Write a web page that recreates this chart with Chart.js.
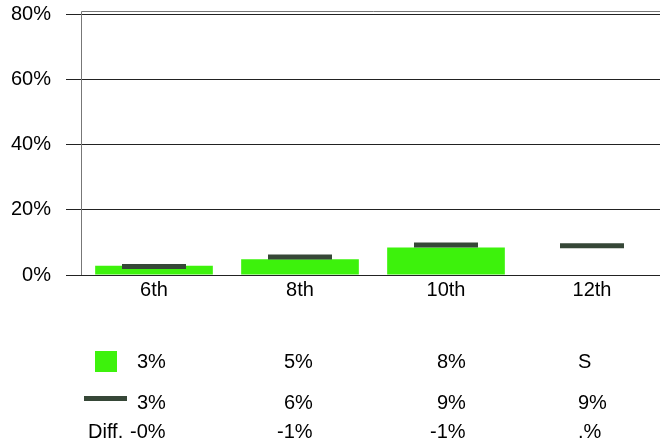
<!DOCTYPE html>
<html>
<head>
<meta charset="utf-8">
<script src="https://cdn.jsdelivr.net/npm/chart.js@4/dist/chart.umd.min.js"></script>
<style>
html,body{margin:0;padding:0;overflow:hidden;background:#fff;}
canvas{display:block;}
</style>
</head>
<body>
<canvas id="c" width="665" height="442"></canvas>
<script>
const categories = ['6th', '8th', '10th', '12th'];
const barValues = [2.8, 4.8, 8.4, null];
const markerValues = [2.6, 5.5, 9.2, 9.0];
const yTicks = [0, 20, 40, 60, 80];
const rowBarText = ['3%', '5%', '8%', 'S'];
const rowMarkerText = ['3%', '6%', '9%', '9%'];
const rowDiffText = ['-0%', '-1%', '-1%', '.%'];
const diffLabel = 'Diff.';

const GREEN = '#3df20c';
const DARK = '#364737';
const FONT = '"Liberation Sans", Arial, sans-serif';

const framePlugin = {
  id: 'frame',
  afterDatasetsDraw(chart) {
    const ctx = chart.ctx, a = chart.chartArea;
    ctx.save();
    ctx.strokeStyle = '#777';
    ctx.lineWidth = 1;
    ctx.beginPath();
    ctx.moveTo(a.left + 0.5, a.bottom);
    ctx.lineTo(a.left + 0.5, a.top - 2.5);
    ctx.lineTo(a.right, a.top - 2.5);
    ctx.stroke();
    ctx.restore();
  },
  afterDraw(chart) {
    const ctx = chart.ctx;
    const colX = [137, 284, 437, 578];
    ctx.save();
    ctx.font = '20px ' + FONT;
    ctx.textBaseline = 'middle';
    ctx.textAlign = 'left';
    ctx.fillStyle = GREEN;
    ctx.fillRect(95, 351, 22, 21);
    ctx.fillStyle = DARK;
    ctx.fillRect(84, 396, 43, 5);
    ctx.fillStyle = '#000';
    for (let i = 0; i < categories.length; i++) {
      ctx.fillText(rowBarText[i], colX[i], 362);
      ctx.fillText(rowMarkerText[i], colX[i], 403);
      ctx.fillText(rowDiffText[i], colX[i] - (rowDiffText[i][0] === '-' ? 7 : 0), 432);
    }
    ctx.fillText(diffLabel, 88, 432);
    ctx.restore();
  }
};

new Chart(document.getElementById('c'), {
  data: {
    labels: categories,
    datasets: [
      {
        type: 'line',
        data: markerValues,
        showLine: false,
        pointStyle: 'line',
        pointRadius: 32,
        pointHoverRadius: 32,
        pointBorderWidth: 5,
        pointHoverBorderWidth: 5,
        borderColor: DARK,
        backgroundColor: DARK,
        clip: false,
        order: 0
      },
      {
        type: 'bar',
        data: barValues,
        backgroundColor: GREEN,
        borderWidth: 0,
        barPercentage: 0.806,
        categoryPercentage: 1,
        order: 1
      }
    ]
  },
  options: {
    responsive: false,
    animation: false,
    events: [],
    layout: { autoPadding: false, padding: { top: 14, right: 0, left: 0, bottom: 0 } },
    plugins: { legend: { display: false }, tooltip: { enabled: false } },
    scales: {
      x: {
        offset: true,
        grid: { display: false, drawTicks: false },
        border: { display: true, color: '#222', width: 1 },
        ticks: { color: '#000', font: { size: 20, family: FONT }, padding: 3, maxRotation: 0 },
        afterFit(s) { s.height = 167; s.paddingLeft = 0; s.paddingRight = 0; }
      },
      y: {
        min: 0, max: 80,
        afterBuildTicks(s) { s.ticks = yTicks.map(v => ({ value: v })); },
        grid: { color: '#222', tickLength: 15, drawTicks: true, tickColor: '#222' },
        border: { display: false },
        ticks: { color: '#000', font: { size: 20, family: FONT }, padding: 15, callback: v => v + '%' },
        afterFit(s) { s.width = 81; s.paddingTop = 0; s.paddingBottom = 0; }
      }
    }
  },
  plugins: [framePlugin]
});
</script>
</body>
</html>
